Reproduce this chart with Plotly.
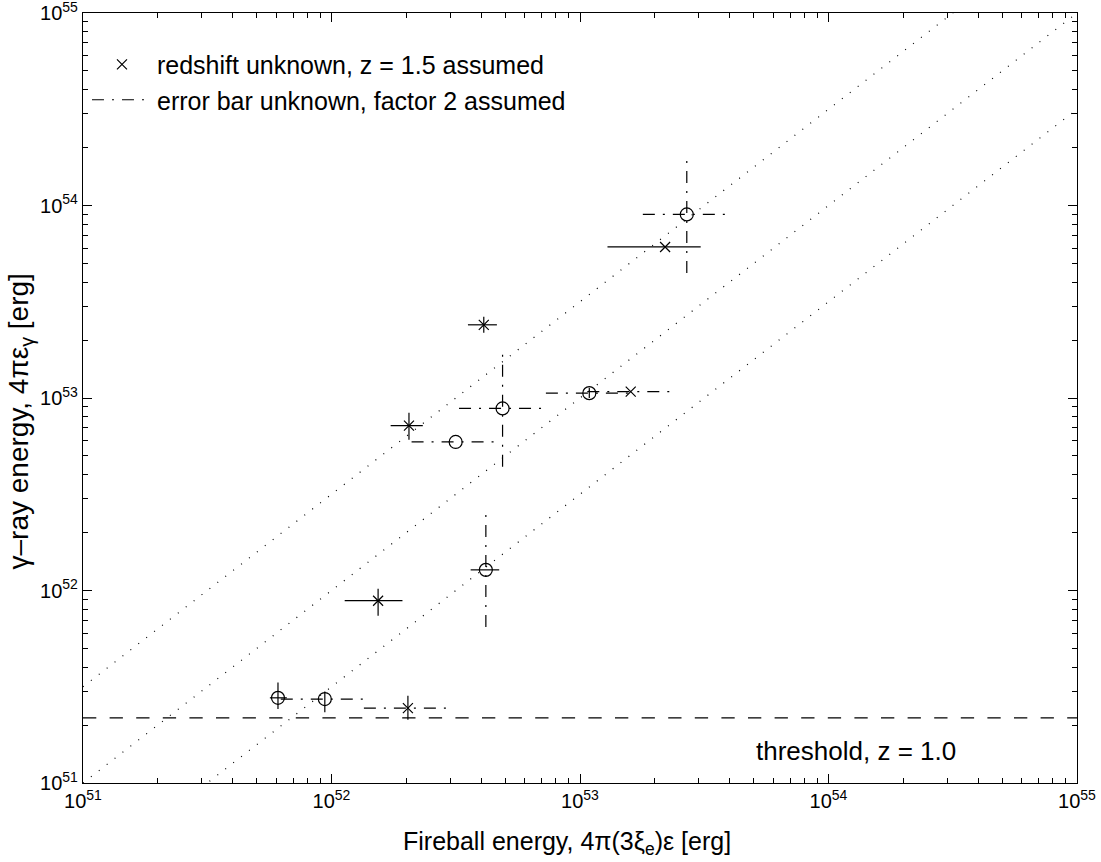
import plotly.graph_objects as go

# ---------------- data ----------------
# fireball energy [erg], gamma-ray energy [erg]
pt_x = [6.09e51, 9.40e51, 2.03e52, 2.05e52, 3.16e52, 4.10e52, 4.88e52,
        1.09e53, 1.60e53, 2.69e53, 2.20e53, 4.18e52, 1.54e52]
pt_y = [2.77e51, 2.73e51, 2.45e51, 7.18e52, 5.91e52, 2.40e53, 8.83e52,
        1.06e53, 1.08e53, 8.99e53, 6.09e53, 1.28e52, 8.85e51]
# True -> redshift unknown (z = 1.5 assumed), drawn as x
redshift_unknown = [False, False, True, True, False, True, False,
                    False, True, False, True, False, True]
# horizontal error bars
x_lo = [5.65e51, 6.25e51, 1.35e52, 1.73e52, 2.10e52, 3.54e52, 3.26e52,
        7.29e52, 1.07e53, 1.79e53, 1.29e53, 3.63e52, 1.13e52]
x_hi = [6.61e51, 1.41e52, 3.05e52, 2.33e52, 4.75e52, 4.63e52, 7.29e52,
        1.62e53, 2.41e53, 4.01e53, 3.06e53, 4.73e52, 1.93e52]
x_err_assumed = [False, True, True, False, True, False, True,
                 True, True, True, False, False, False]
# vertical error bars (None = no bar)
y_lo = [2.42e51, 2.33e51, 2.13e51, 6.07e52, None, 2.18e53, 4.40e52,
        1.00e53, None, 4.46e53, None, 6.46e51, 7.40e51]
y_hi = [3.33e51, 2.99e51, 2.84e51, 8.39e52, None, 2.64e53, 1.77e53,
        1.13e53, None, 1.80e54, None, 2.55e52, 1.02e52]
y_err_assumed = [False, False, False, False, False, False, True,
                 False, False, True, False, True, False]

threshold_y = 2.18e51
ref_ratios = [10 ** 0.5, 1.0, 10 ** -0.5]     # E_gamma / E_fireball guide lines
axis_range = [1e51, 1e55]
decades = [51, 52, 53, 54, 55]
tick_text = ["10<sup>%d</sup>" % d for d in decades]

# ---------------- build ----------------
FONT = "Liberation Sans, Arial, Helvetica, sans-serif"
fig = go.Figure()

# guide lines
for r in ref_ratios:
    fig.add_trace(go.Scatter(
        x=axis_range, y=[axis_range[0] * r, axis_range[1] * r], mode="lines",
        line=dict(color="black", width=1.2, dash="1px,9px"),
        showlegend=False, hoverinfo="skip"))

# threshold
fig.add_trace(go.Scatter(
    x=axis_range, y=[threshold_y, threshold_y], mode="lines",
    line=dict(color="black", width=1.2, dash="13.3px,13.3px"),
    showlegend=False, hoverinfo="skip"))

# error bars
solid_x, solid_y, dd_x, dd_y = [], [], [], []
for i in range(len(pt_x)):
    if x_lo[i] is not None:
        tx, ty = (dd_x, dd_y) if x_err_assumed[i] else (solid_x, solid_y)
        tx += [x_lo[i], x_hi[i], None]
        ty += [pt_y[i], pt_y[i], None]
    if y_lo[i] is not None:
        tx, ty = (dd_x, dd_y) if y_err_assumed[i] else (solid_x, solid_y)
        tx += [pt_x[i], pt_x[i], None]
        ty += [y_lo[i], y_hi[i], None]

fig.add_trace(go.Scatter(
    x=solid_x, y=solid_y, mode="lines", connectgaps=False,
    line=dict(color="black", width=1.2),
    showlegend=False, hoverinfo="skip"))
fig.add_trace(go.Scatter(
    x=dd_x, y=dd_y, mode="lines", connectgaps=False,
    line=dict(color="black", width=1.2, dash="12px,8px,2px,8px"),
    name="error bar unknown, factor 2 assumed", legend="legend2"))

# markers
cx = [pt_x[i] for i in range(len(pt_x)) if not redshift_unknown[i]]
cy = [pt_y[i] for i in range(len(pt_x)) if not redshift_unknown[i]]
ux = [pt_x[i] for i in range(len(pt_x)) if redshift_unknown[i]]
uy = [pt_y[i] for i in range(len(pt_x)) if redshift_unknown[i]]
fig.add_trace(go.Scatter(
    x=cx, y=cy, mode="markers",
    marker=dict(symbol="circle-open", size=13, color="black",
                line=dict(width=1.2, color="black")),
    showlegend=False))
fig.add_trace(go.Scatter(
    x=ux, y=uy, mode="markers",
    marker=dict(symbol="x-thin-open", size=10, color="black",
                line=dict(width=1.2, color="black")),
    name="redshift unknown, z = 1.5 assumed", legend="legend"))

minor_vals = [k * 10.0 ** d for d in decades[:-1] for k in range(2, 10)]

axis_common = dict(
    type="log", showgrid=False, zeroline=False, automargin=False,
    showline=True, linecolor="black", linewidth=1.2, mirror="ticks",
    ticks="inside", ticklen=9, tickwidth=1, tickcolor="black",
    ticklabeloverflow="allow",
    tickfont=dict(family=FONT, size=20, color="black"),
    minor=dict(tickvals=minor_vals, ticks="inside", ticklen=5,
               tickwidth=1, tickcolor="black", showgrid=False),
)

fig.update_layout(
    width=1101, height=862,
    margin=dict(l=83, r=24, t=13, b=79, autoexpand=False),
    paper_bgcolor="white", plot_bgcolor="white",
    font=dict(family=FONT, size=20, color="black"),
    xaxis=dict(axis_common, range=[51, 55],
               tickvals=[10.0 ** d for d in decades], ticktext=tick_text),
    yaxis=dict(axis_common, range=[51, 55],
               tickvals=[10.0 ** d for d in decades], ticktext=tick_text),
    legend=dict(x=0.004, y=0.933, xanchor="left", yanchor="middle",
                bgcolor="rgba(0,0,0,0)", borderwidth=0, itemwidth=60,
                font=dict(family=FONT, size=25)),
    legend2=dict(x=0.004, y=0.887, xanchor="left", yanchor="middle",
                 bgcolor="rgba(0,0,0,0)", borderwidth=0, itemwidth=60,
                 font=dict(family=FONT, size=25)),
    annotations=[
        dict(text="threshold, z = 1.0", xref="paper", yref="paper",
             x=0.880, y=0.041, xanchor="right", yanchor="middle",
             showarrow=False, font=dict(family=FONT, size=26)),
        dict(text="Fireball energy, 4π(3ξ<sub>e</sub>)ε [erg]",
             xref="paper", yref="paper", x=0.487, y=-0.078,
             xanchor="center", yanchor="middle", showarrow=False,
             font=dict(family=FONT, size=25)),
        dict(text="γ–ray energy, 4πε<sub>γ</sub> [erg]",
             xref="paper", yref="paper", x=-0.063, y=0.47, textangle=-90,
             xanchor="center", yanchor="middle", showarrow=False,
             font=dict(family=FONT, size=28)),
    ],
)

fig.write_html(
    "out.html",
    config={"displayModeBar": False},
    post_script="document.body.style.margin='0px';"
                "document.documentElement.style.overflow='hidden';")
